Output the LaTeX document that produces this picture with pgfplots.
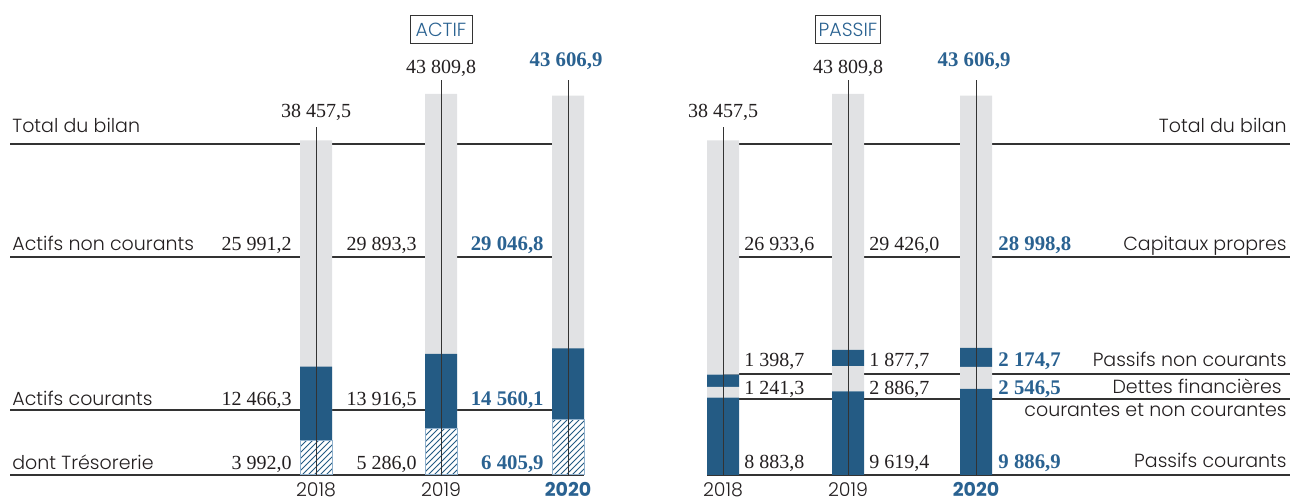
\documentclass[border=0pt]{standalone}
\usepackage{pgfplots}
\pgfplotsset{compat=1.18}
\usetikzlibrary{patterns}
\usepackage{fontspec}
\setmainfont{Liberation Serif}
\newfontfamily\sans{Poppins}[UprightFont={* Light}, BoldFont={* Bold}]
\definecolor{dblue}{HTML}{245B84}
\definecolor{lgray}{HTML}{E1E2E4}
\definecolor{tblue}{HTML}{2A6291}
\definecolor{hblue}{HTML}{8FB0CC}
\definecolor{lcol}{HTML}{333333}
\definecolor{txt}{HTML}{231F20}
\newcommand{\lab}{\sans\fontsize{9.5}{11}\selectfont}
\newcommand{\val}{\fontsize{10}{12}\selectfont}
\newcommand{\bval}{\fontsize{10.4}{12}\selectfont\bfseries}
\begin{document}
\begin{tikzpicture}
\begin{scope}[x=0.5pt,y=0.5pt]
\path[use as bounding box] (0,0) rectangle (1291,501);
\begin{scope}[lcol, line width=0.65pt]
% left lines
\draw (10,357) -- (568,357);
\draw (10,244) -- (568,244);
\draw (10,91) -- (568,91);
\draw (10,26) -- (584,26);
% right lines
\draw (723,357) -- (1290,357);
\draw (723,244) -- (1290,244);
\draw (723,127) -- (1290,127);
\draw (723,102) -- (1290,102);
\draw (707,26) -- (1290,26);
\end{scope}
\end{scope}
% ACTIF axis
\begin{axis}[at={(0,0)}, anchor=south west, scale only axis,
  width=645.5pt, height=250.5pt, hide axis, clip=false,
  xmin=0, xmax=1291, ymin=-2988.5, ymax=54597.7]
\addplot[ybar, bar width=32, bar shift=0pt, fill=lgray, draw=none] coordinates {(316,38457.5) (441,43809.8) (568,43606.9)};
\addplot[ybar, bar width=32, bar shift=0pt, fill=dblue, draw=none] coordinates {(316,12466.3) (441,13916.5) (568,14560.1)};
\addplot[ybar, bar width=32, bar shift=0pt, fill=white, draw=hblue, line width=0.5pt, postaction={pattern=north east lines, pattern color=dblue}] coordinates {(316,3992.0) (441,5286.0) (568,6405.9)};
\end{axis}
% PASSIF axis
\begin{axis}[at={(0,0)}, anchor=south west, scale only axis,
  width=645.5pt, height=250.5pt, hide axis, clip=false,
  xmin=0, xmax=1291, ymin=-2988.5, ymax=54597.7,
  ybar stacked, bar width=32]
\addplot[fill=dblue, draw=none] coordinates {(723,8883.8) (848,9619.4) (976,9886.9)};
\addplot[fill=lgray, draw=none] coordinates {(723,1241.3) (848,2886.7) (976,2546.5)};
\addplot[fill=dblue, draw=none] coordinates {(723,1398.7) (848,1877.7) (976,2174.7)};
\addplot[fill=lgray, draw=none] coordinates {(723,26933.6) (848,29426.0) (976,28998.8)};
\end{axis}
% vertical lines through the bars
\begin{axis}[at={(0,0)}, anchor=south west, scale only axis,
  width=645.5pt, height=250.5pt, hide axis, clip=false,
  xmin=0, xmax=1291, ymin=-2988.5, ymax=54597.7]
\draw[lcol, line width=0.5pt] (axis cs:316,0) -- (axis cs:316,40000);
\draw[lcol, line width=0.5pt] (axis cs:441,0) -- (axis cs:441,45402);
\draw[lcol, line width=0.5pt] (axis cs:568,0) -- (axis cs:568,45402);
\draw[lcol, line width=0.5pt] (axis cs:723,0) -- (axis cs:723,40000);
\draw[lcol, line width=0.5pt] (axis cs:848,0) -- (axis cs:848,45402);
\draw[lcol, line width=0.5pt] (axis cs:976,0) -- (axis cs:976,45402);
\end{axis}
\begin{scope}[x=0.5pt,y=0.5pt, text=txt, inner sep=0pt]
% titles
\node[draw=lcol, line width=0.5pt, minimum width=31pt, minimum height=14pt, inner sep=1pt, text=tblue] at (441,471) {\lab ACTIF};
\node[draw=lcol, line width=0.5pt, minimum width=32.5pt, minimum height=14pt, inner sep=1pt, text=tblue] at (848,471) {\lab PASSIF};
% left labels
\node[anchor=base west] at (12,368) {\lab Total du bilan};
\node[anchor=base west] at (12,250) {\lab Actifs non courants};
\node[anchor=base west] at (12,95) {\lab Actifs courants};
\node[anchor=base west] at (12,31) {\lab dont Trésorerie};
% left totals
\node[anchor=base] at (316,383) {\val 38 457,5};
\node[anchor=base] at (441,427) {\val 43 809,8};
\node[anchor=base, text=tblue] at (566,434) {\bval 43 606,9};
% left values
\node[anchor=base east] at (292,250) {\val 25 991,2};
\node[anchor=base east] at (417,250) {\val 29 893,3};
\node[anchor=base east, text=tblue] at (544,250) {\bval 29 046,8};
\node[anchor=base east] at (292,95) {\val 12 466,3};
\node[anchor=base east] at (417,95) {\val 13 916,5};
\node[anchor=base east, text=tblue] at (544,95) {\bval 14 560,1};
\node[anchor=base east] at (292,31) {\val 3 992,0};
\node[anchor=base east] at (417,31) {\val 5 286,0};
\node[anchor=base east, text=tblue] at (544,31) {\bval 6 405,9};
% years
\node[anchor=base] at (316,4) {\lab 2018};
\node[anchor=base] at (441,4) {\lab 2019};
\node[anchor=base, text=tblue] at (568,4) {\lab\bfseries 2020};
\node[anchor=base] at (723,4) {\lab 2018};
\node[anchor=base] at (848,4) {\lab 2019};
\node[anchor=base, text=tblue] at (976,4) {\lab\bfseries 2020};
% right totals
\node[anchor=base] at (723,383) {\val 38 457,5};
\node[anchor=base] at (848,427) {\val 43 809,8};
\node[anchor=base, text=tblue] at (974,434) {\bval 43 606,9};
% right values
\node[anchor=base west] at (744,250) {\val 26 933,6};
\node[anchor=base west] at (869,250) {\val 29 426,0};
\node[anchor=base west, text=tblue] at (998,250) {\bval 28 998,8};
\node[anchor=base west] at (744,134) {\val 1 398,7};
\node[anchor=base west] at (869,134) {\val 1 877,7};
\node[anchor=base west, text=tblue] at (998,134) {\bval 2 174,7};
\node[anchor=base west] at (744,106) {\val 1 241,3};
\node[anchor=base west] at (869,106) {\val 2 886,7};
\node[anchor=base west, text=tblue] at (998,106) {\bval 2 546,5};
\node[anchor=base west] at (744,32) {\val 8 883,8};
\node[anchor=base west] at (869,32) {\val 9 619,4};
\node[anchor=base west, text=tblue] at (998,32) {\bval 9 886,9};
% right labels
\node[anchor=base east] at (1287,368) {\lab Total du bilan};
\node[anchor=base east] at (1287,250) {\lab Capitaux propres};
\node[anchor=base east] at (1287,134) {\lab Passifs non courants};
\node[anchor=base east] at (1282,107) {\lab Dettes financières};
\node[anchor=base east] at (1287,84) {\lab courantes et non courantes};
\node[anchor=base east] at (1287,33) {\lab Passifs courants};
\end{scope}
\end{tikzpicture}
\end{document}
